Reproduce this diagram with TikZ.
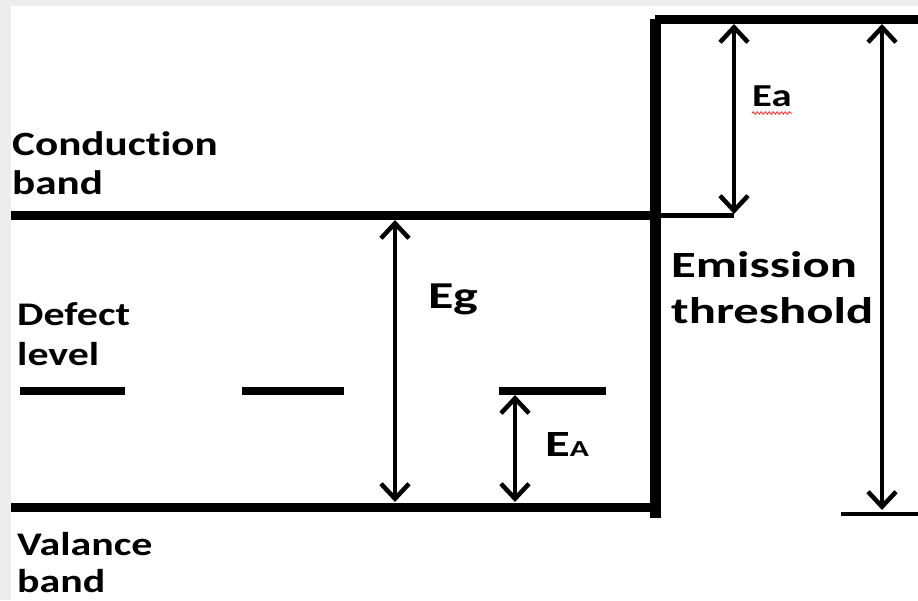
\documentclass[tikz,border=0pt]{standalone}
\usepackage{fontspec}
\setmainfont{Carlito}
\newfontfamily\lblA[FakeStretch=1.27,Ligatures=NoCommon]{Carlito}
\newfontfamily\lblB[FakeStretch=1.37,Ligatures=NoCommon]{Carlito}
\usetikzlibrary{arrows.meta,decorations.pathmorphing}
\definecolor{bggray}{HTML}{EDEDED}
\definecolor{squiggle}{HTML}{FF3B3B}
\begin{document}
\begin{tikzpicture}[x=1pt,y=-1pt,
  level/.style={line width=9pt},
  defect/.style={line width=8pt},
  thinlevel/.style={line width=4.5pt},
  barrier/.style={line width=11pt},
  gap/.style={line width=4.5pt,
    {Straight Barb[length=15pt,width=28pt]}-{Straight Barb[length=15pt,width=28pt]}},
  side/.style={font=\lblA\bfseries\fontsize{33}{39}\selectfont, align=left,
    anchor=base west, inner sep=0pt},
  energy/.style={font=\lblB\bfseries\fontsize{37}{46}\selectfont, align=left,
    anchor=base west, inner sep=0pt},
  small/.style={font=\lblA\bfseries\fontsize{32}{38}\selectfont,
    anchor=base west, inner sep=0pt}
]
\useasboundingbox (0,0) rectangle (918,600);
\fill[bggray] (0,0) rectangle (918,600);
\fill[white] (11,6) rectangle (918,600);

% levels
\coordinate (cbL) at (11,215);   \coordinate (cbR) at (650,215);
\coordinate (vbL) at (11,507);   \coordinate (vbR) at (655,507);
\coordinate (d1L) at (20,391);   \coordinate (d1R) at (125,391);
\coordinate (d2L) at (242,391);  \coordinate (d2R) at (344,391);
\coordinate (d3L) at (499,391);  \coordinate (d3R) at (606,391);
\coordinate (bTop) at (655,19);  \coordinate (bBot) at (655,518);
\coordinate (tL) at (655,19.5);  \coordinate (tR) at (918,19.5);
\coordinate (aL) at (655,215.5); \coordinate (aR) at (734,215.5);
\coordinate (eL) at (841,514);   \coordinate (eR) at (918,514);

\draw[level] (cbL) -- (cbR);
\draw[level] (vbL) -- (vbR);
\draw[defect] (d1L) -- (d1R);
\draw[defect] (d2L) -- (d2R);
\draw[defect] (d3L) -- (d3R);
\draw[barrier] (bTop) -- (bBot);
\draw[level] (tL) -- (tR);
\draw[thinlevel] (aL) -- (aR);
\draw[thinlevel] (eL) -- (eR);

% arrows
\coordinate (egT) at (395,220);  \coordinate (egB) at (395,502);
\coordinate (eAT) at (515,395);  \coordinate (eAB) at (515,502);
\coordinate (eaT) at (734,24);   \coordinate (eaB) at (734,214);
\coordinate (etT) at (882,24);   \coordinate (etB) at (882,510);
\draw[gap] (egT) -- (egB);
\draw[gap] (eAT) -- (eAB);
\draw[gap] (eaT) -- (eaB);
\draw[gap] (etT) -- (etB);

% labels (base anchor = baseline of the last line)
\node[side, font=\lblA\bfseries\fontsize{34}{39}\selectfont] (cond) at (12,194) {Conduction\\band};
\node[side, font=\lblA\bfseries\fontsize{33}{40}\selectfont] (def) at (17,365) {Defect\\level};
\node[side, font=\lblA\bfseries\fontsize{33}{37}\selectfont] (val) at (17,592) {Valance\\band};
\node[energy] (emi) at (671,323) {Emission\\threshold};
\node[energy, font=\lblB\bfseries\fontsize{38}{46}\selectfont] (eg) at (428,308) {Eg};
\node[energy] (eA) at (545,456) {E{\fontsize{23}{23}\selectfont A}};
\node[small] (ea) at (752,106) {Ea};
\draw[squiggle, line width=1pt, decorate,
  decoration={snake, amplitude=1.1pt, segment length=4pt}]
  ([yshift=-7pt]ea.base west) -- ([yshift=-7pt]ea.base east);
\end{tikzpicture}
\end{document}
